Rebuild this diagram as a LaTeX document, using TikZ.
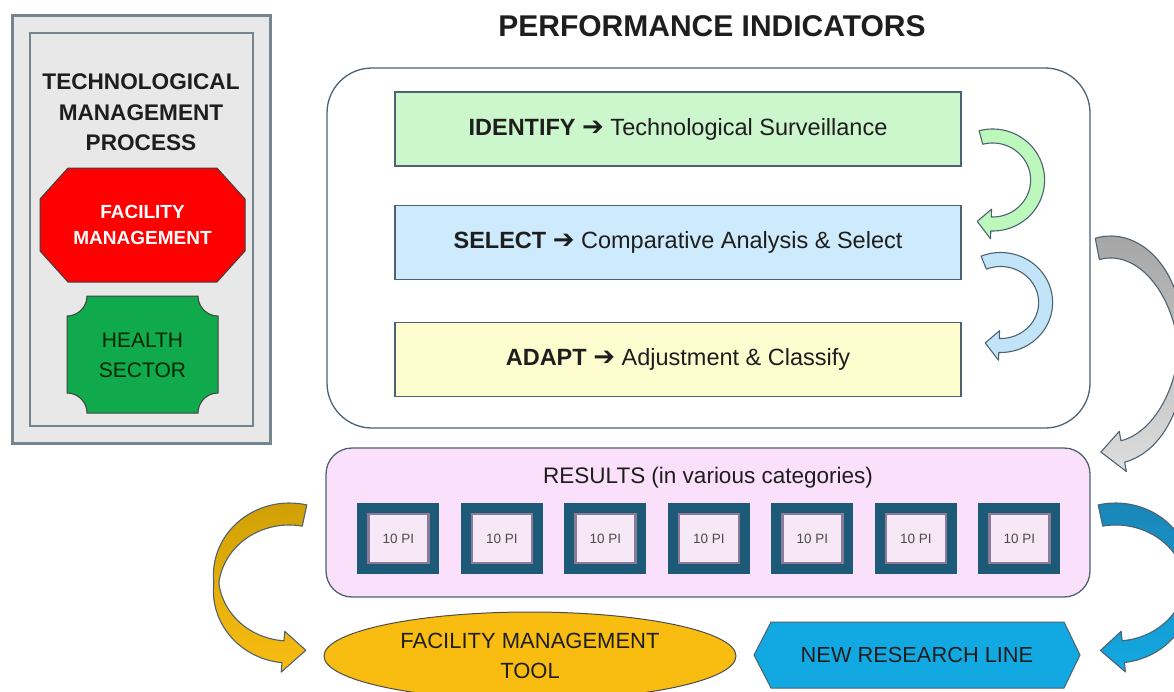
\documentclass[tikz,border=0pt]{standalone}
\usepackage{fontspec}
\setmainfont{Liberation Sans}
\newfontfamily\arrowfont{DejaVu Sans}
\usetikzlibrary{shapes.geometric,calc}

\definecolor{ink}{HTML}{1E1E1E}
\definecolor{edge}{HTML}{4E6272}
\definecolor{panelgray}{HTML}{E8E8E9}
\definecolor{panelline}{HTML}{75858F}
\definecolor{fmred}{HTML}{FE0000}
\definecolor{hsgreen}{HTML}{10A94C}
\definecolor{idgreen}{HTML}{CCF6CC}
\definecolor{selblue}{HTML}{CDEBFC}
\definecolor{selarrow}{HTML}{C2E4F9}
\definecolor{adyellow}{HTML}{FEFDD0}
\definecolor{respink}{HTML}{FBE0FB}
\definecolor{piteal}{HTML}{1C5A78}
\definecolor{pibevel}{HTML}{8A7C98}
\definecolor{piface}{HTML}{F6E8F6}
\definecolor{toolgold}{HTML}{F9BD12}
\definecolor{goldtop}{HTML}{D0A004}
\definecolor{linecyan}{HTML}{12A9E2}
\definecolor{cyantop}{HTML}{1A86B8}
\definecolor{graytop}{HTML}{A6A6A6}
\definecolor{graybot}{HTML}{DDDDDD}

\tikzset{
  panelbox/.style={draw=panelline, fill=panelgray, line width=3pt, inner sep=0pt},
  stepbox/.style={draw=edge, line width=1.2pt, minimum width=566pt, minimum height=74pt,
    text=ink, font=\fontsize{23.5}{28}\selectfont},
  bigbox/.style={draw=edge, line width=1.3pt, inner sep=0pt},
  piouter/.style={fill=piteal, minimum width=82pt, minimum height=71pt, inner sep=0pt},
  piinner/.style={fill=piface, draw=pibevel, line width=2.5pt, minimum width=60pt,
    minimum height=49pt, inner sep=0pt, text=black!70, font=\fontsize{13.5}{14}\selectfont},
  bentline/.style={draw=edge, line width=1.1pt, line join=round},
}

% heavy arrow between keyword and task
\newcommand\steparrow{{\arrowfont\bfseries\fontsize{26}{28}\selectfont ➔}}

% curved band arrow: style, centre, x/y radius, thin/thick half width, start/end angle
\newcommand\bentarrow[8]{%
  \pgfmathsetmacro\arrbarb{1.4*#6+5}%
  \pgfmathsetmacro\arrtip{#8+18*sign(#8-#7)}%
  \draw[bentline, #1, shift={#2}]
    plot[domain=#7:#8, samples=60]
      ({(#3+#5+(#6-#5)*abs(sin(\x)))*cos(\x)}, {(#4+#5+(#6-#5)*abs(sin(\x)))*sin(\x)})
    -- (#8:{#3+\arrbarb} and {#4+\arrbarb})
    -- (\arrtip:#3 and #4)
    -- (#8:{#3-\arrbarb} and {#4-\arrbarb})
    -- plot[domain=#8:#7, samples=60]
      ({(#3-#5-(#6-#5)*abs(sin(\x)))*cos(\x)}, {(#4-#5-(#6-#5)*abs(sin(\x)))*sin(\x)})
    -- cycle;}

\begin{document}
\begin{tikzpicture}[x=1pt, y=-1pt]
\fill[white] (0,0) rectangle (1174,691);
\useasboundingbox (0,0) rectangle (1174,691);

% left panel
\node[panelbox, minimum width=258pt, minimum height=428pt] (panel) at (141,229) {};
\node[draw=panelline, line width=2.5pt, minimum width=223pt, minimum height=393pt] (inpanel) at (141.5,229.5) {};
\node[align=center, text=ink, font=\bfseries\fontsize{22.6}{30.5}\selectfont] (tmp) at (141,112.5)
  {TECHNOLOGICAL\\MANAGEMENT\\PROCESS};
\draw[fill=fmred, draw=black!75, line width=1pt]
  (68,168) -- (217,168) -- (245,199) -- (245,251) -- (217,282) -- (68,282) -- (40,251) -- (40,199) -- cycle;
\node[align=center, text=white, font=\bfseries\fontsize{19}{26}\selectfont] (fm) at (142.5,225) {FACILITY\\MANAGEMENT};
\draw[fill=hsgreen, draw=black!75, line width=1pt]
  (87,296) -- (198,296) .. controls (198,307) and (207,316) .. (218,316)
  -- (218,393) .. controls (207,393) and (198,402) .. (198,413)
  -- (87,413) .. controls (87,402) and (78,393) .. (67,393)
  -- (67,316) .. controls (78,316) and (87,307) .. (87,296) -- cycle;
\node[align=center, text=black!85!green, font=\fontsize{21}{30}\selectfont] (hs) at (142.5,355) {HEALTH\\SECTOR};

% performance indicators
\node[font=\bfseries\fontsize{30}{34}\selectfont, text=ink] (title) at (712,26) {PERFORMANCE INDICATORS};
\node[bigbox, fill=white, rounded corners=45pt, minimum width=763pt, minimum height=360pt] (steps) at (708.5,248) {};
\node[stepbox, fill=idgreen] (identify) at (678,129)
  {\textbf{IDENTIFY} \steparrow{} Technological Surveillance};
\node[stepbox, fill=selblue] (select) at (678,242.5)
  {\textbf{SELECT} \steparrow{} Comparative Analysis \& Select};
\node[stepbox, fill=adyellow] (adapt) at (678,359.5)
  {\textbf{ADAPT} \steparrow{} Adjustment \& Classify};

\bentarrow{fill=idgreen!92!green}{($(identify.east)+(31,51)$)}{45}{44}{7}{7}{-105}{92}
\bentarrow{fill=selarrow}{($(select.east)+(39,60)$)}{45}{43}{7}{7}{-112}{92}
\bentarrow{top color=graytop, bottom color=graybot}{($(steps.east)+(20,102)$)}{70}{103}{2}{11}{-101}{80}

% results
\node[bigbox, fill=respink, rounded corners=26pt, minimum width=764pt, minimum height=149pt] (results) at (708,522.5) {};
\node[text=ink, font=\fontsize{22.5}{26}\selectfont] (reslabel) at (708,478) {RESULTS (in various categories)};
\foreach \i in {0,...,6}{
  \node[piouter] (pi\i) at ({398.3+103.5*\i},538.4) {};
  \node[piinner] (pitext\i) at (pi\i) {10 PI};
}

\bentarrow{top color=goldtop, bottom color=toolgold}{($(results.west)+(-36,60.5)$)}{73}{69}{2.5}{11}{-78}{-265}
\bentarrow{top color=cyantop, bottom color=linecyan}{($(results.east)+(25,60.5)$)}{73}{69}{2.5}{11}{-102}{84}

% outcomes
\node[ellipse, fill=toolgold, draw=black!70, line width=1pt, minimum width=412pt, minimum height=88pt,
  inner sep=0pt, align=center, text=ink, font=\fontsize{22}{30}\selectfont] (tool) at (530,656)
  {FACILITY MANAGEMENT\\TOOL};
\draw[fill=linecyan, draw=edge, line width=1pt]
  (771,622) -- (1064,622) -- (1080,655) -- (1064,688) -- (771,688) -- (754,655) -- cycle;
\node[text=ink, font=\fontsize{21.8}{26}\selectfont] (newline) at (917,655) {NEW RESEARCH LINE};
\end{tikzpicture}
\end{document}
